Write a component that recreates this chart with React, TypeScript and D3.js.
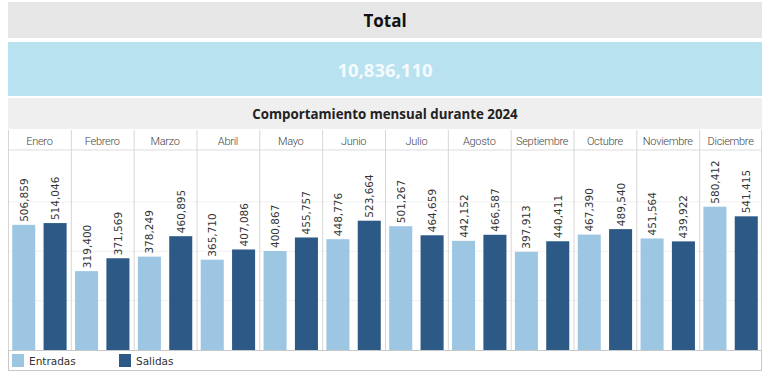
import React from "react";
import * as d3 from "d3";

const months = ["Enero", "Febrero", "Marzo", "Abril", "Mayo", "Junio", "Julio", "Agosto", "Septiembre", "Octubre", "Noviembre", "Diciembre"];
const series = ["Entradas", "Salidas"];
const entradas = [506859, 319400, 378249, 365710, 400867, 448776, 501267, 442152, 397913, 467390, 451564, 580412];
const salidas = [514046, 371569, 460895, 407086, 455757, 523664, 464659, 466587, 440411, 489540, 439922, 541415];
const colors = ["#9dc6e3", "#2c5985"];
const gridValues = [200000, 400000, 600000];
const totalValue = 10836110;
const title = "Total";
const subtitle = "Comportamiento mensual durante 2024";

export default function App() {
  const width = 768;
  const height = 372;
  const left = 8;
  const right = 762;
  const plotTop = 150;
  const plotBottom = 350;

  const x = d3.scaleBand().domain(months).range([left, right]);
  const xInner = d3.scaleBand().domain(series).range([0, x.bandwidth()]).paddingInner(0.265).paddingOuter(0.135);
  const y = d3.scaleLinear().domain([0, 810000]).range([plotBottom, plotTop]);
  const fmt = d3.format(",");

  const rows = months.map((m, i) => ({ month: m, values: [entradas[i], salidas[i]] }));

  return (
    <svg width={width} height={height} style={{ position: "absolute", left: 0, top: 0, background: "white" }}>
      {/* header bands */}
      <rect x={left} y={2} width={right - left} height={36} fill="#e6e6e6" />
      <text x={385} y={27} textAnchor="middle" fontFamily="Open Sans, sans-serif" fontWeight={700} fontSize={17} fill="#111">
        {title}
      </text>
      <rect x={left} y={42} width={right - left} height={54} fill="#b9e2f1" />
      <text x={385} y={76.5} textAnchor="middle" fontFamily="Open Sans, sans-serif" fontWeight={700} fontSize={18.5} fill="#f4fafd">
        {fmt(totalValue)}
      </text>
      <rect x={left} y={98} width={right - left} height={31} fill="#efefef" />
      <text x={385} y={119} textAnchor="middle" fontFamily="Open Sans, sans-serif" fontWeight={700} fontSize={13.3} fill="#222">
        {subtitle}
      </text>

      {/* grid */}
      {gridValues.map(v => (
        <line key={v} x1={left} x2={right} y1={y(v)} y2={y(v)} stroke="#f1f1f1" />
      ))}

      {/* column headers and dividers */}
      <line x1={left} x2={right} y1={plotTop} y2={plotTop} stroke="#dcdcdc" />
      {months.map(m => (
        <g key={m}>
          <line x1={x(m)! + 0.5} x2={x(m)! + 0.5} y1={130} y2={plotBottom} stroke="#d6d6d6" />
          <text x={x(m)! + x.bandwidth() / 2} y={144.5} textAnchor="middle" fontFamily="Roboto, sans-serif" fontWeight={300} fontSize={11} letterSpacing={-0.3} fill="#444">
            {m}
          </text>
        </g>
      ))}
      <line x1={right - 0.5} x2={right - 0.5} y1={130} y2={plotBottom} stroke="#d6d6d6" />

      {/* bars */}
      {rows.map(r => (
        <g key={r.month} transform={`translate(${x(r.month)},0)`}>
          {r.values.map((v, j) => {
            const bx = xInner(series[j])!;
            const bw = xInner.bandwidth();
            return (
              <g key={series[j]}>
                <rect x={bx} y={y(v)} width={bw} height={plotBottom - y(v)} fill={colors[j]} />
                <text
                  transform={`translate(${bx + bw / 2 + 4},${y(v) - 3}) rotate(-90)`}
                  fontFamily="DejaVu Sans, sans-serif"
                  fontSize={10.5}
                  fill="#333"
                >
                  {fmt(v)}
                </text>
              </g>
            );
          })}
        </g>
      ))}

      {/* legend */}
      <rect x={left + 0.5} y={plotBottom + 0.5} width={right - left - 1} height={20} fill="none" stroke="#c8c8c8" />
      {series.map((s, j) => {
        const lx = [12, 119][j];
        return (
          <g key={s}>
            <rect x={lx} y={354} width={12} height={13} fill={colors[j]} />
            <text x={lx + 17} y={364.5} fontFamily="DejaVu Sans, sans-serif" fontSize={10.5} fill="#333">
              {s}
            </text>
          </g>
        );
      })}
    </svg>
  );
}
